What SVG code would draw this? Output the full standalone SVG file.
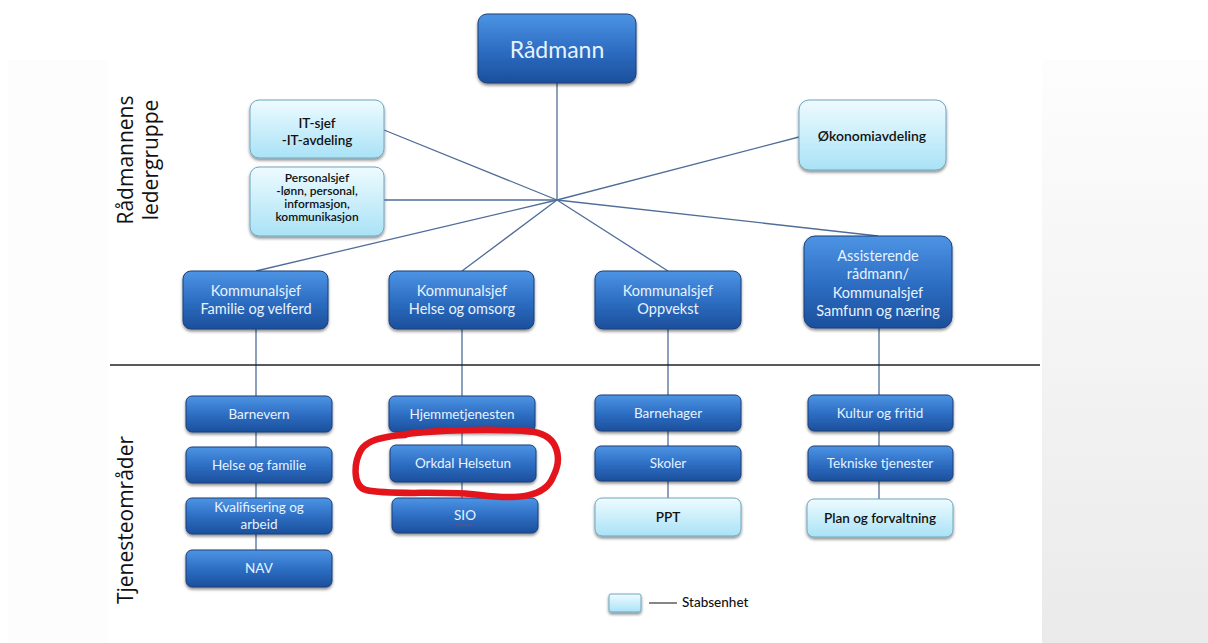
<svg xmlns="http://www.w3.org/2000/svg" width="1208" height="643" viewBox="0 0 1208 643">
<defs>
<linearGradient id="gDark" x1="0" y1="0" x2="0" y2="1">
<stop offset="0" stop-color="#4d94e4"/>
<stop offset="0.5" stop-color="#2e6fc4"/>
<stop offset="1" stop-color="#1c4f9c"/>
</linearGradient>
<linearGradient id="gLight" x1="0" y1="0" x2="0" y2="1">
<stop offset="0" stop-color="#eefbff"/>
<stop offset="1" stop-color="#a9e2f6"/>
</linearGradient>
<linearGradient id="gPanel" x1="0" y1="0" x2="0" y2="1">
<stop offset="0" stop-color="#fdfdfd"/>
<stop offset="1" stop-color="#eaeaea"/>
</linearGradient>
<filter id="sh" x="-10%" y="-10%" width="120%" height="135%">
<feDropShadow dx="0" dy="2" stdDeviation="1.5" flood-color="#000" flood-opacity="0.45"/>
</filter>
<style>
.dark{fill:url(#gDark);stroke:#1d3f78;stroke-width:1;filter:url(#sh)}
.light{fill:url(#gLight);stroke:#6fa6bf;stroke-width:1;filter:url(#sh)}
.td{font-family:Lato,"Open Sans",sans-serif;fill:#e6f3ff;text-anchor:middle;font-size:14.5px}
.tl{font-family:Lato,"Open Sans",sans-serif;fill:#111;text-anchor:middle;font-size:14px;font-weight:600}
.side{font-family:"Open Sans","Liberation Sans",sans-serif;fill:#111;text-anchor:middle;font-size:21px}
.con{stroke:#4f6d99;stroke-width:1.3;fill:none}
</style>
</defs>
<rect width="1208" height="643" fill="#ffffff"/>
<rect x="8" y="60" width="100" height="583" fill="#fdfdfd"/>
<rect x="1042" y="60" width="166" height="583" fill="url(#gPanel)"/>

<g id="side-labels">
<text class="side" transform="translate(133,160) rotate(-90)">Rådmannens</text>
<text class="side" transform="translate(158,160) rotate(-90)">ledergruppe</text>
<text class="side" transform="translate(133,520) rotate(-90)">Tjenesteområder</text>
</g>

<g id="connectors">
<line class="con" x1="557" y1="83" x2="557" y2="200"/>
<line class="con" x1="384" y1="130" x2="557" y2="200"/>
<line class="con" x1="384" y1="200" x2="557" y2="200"/>
<line class="con" x1="799" y1="137" x2="557" y2="200"/>
<line class="con" x1="256" y1="271" x2="557" y2="200"/>
<line class="con" x1="462" y1="271" x2="557" y2="200"/>
<line class="con" x1="668" y1="271" x2="557" y2="200"/>
<line class="con" x1="878" y1="236" x2="557" y2="200"/>
<line class="con" x1="256" y1="329" x2="256" y2="550"/>
<line class="con" x1="462" y1="329" x2="462" y2="498"/>
<line class="con" x1="668" y1="329" x2="668" y2="498"/>
<line class="con" x1="879" y1="328" x2="879" y2="499"/>
<line x1="110" y1="365" x2="1040" y2="365" stroke="#222" stroke-width="1.5"/>
<line x1="649" y1="603" x2="677" y2="603" stroke="#333" stroke-width="1.2"/>
</g>

<g id="radmann"><rect class="dark" x="478" y="14" width="158" height="69" rx="9"/><text class="td" x="557" y="58" style="font-size:23px">Rådmann</text></g>

<g id="it-sjef"><rect class="light" x="250" y="100" width="134" height="58" rx="9"/><text class="tl" x="317" y="128" style="font-size:13.5px">IT-sjef</text><text class="tl" x="317" y="145" style="font-size:13.5px">-IT-avdeling</text></g>

<g id="personalsjef"><rect class="light" x="250" y="167" width="134" height="69" rx="9"/>
<text class="tl" x="317" y="182" style="font-size:12px">Personalsjef</text>
<text class="tl" x="317" y="195" style="font-size:12px">-lønn, personal,</text>
<text class="tl" x="317" y="208" style="font-size:12px">informasjon,</text>
<text class="tl" x="317" y="221" style="font-size:12px">kommunikasjon</text></g>

<g id="okonomi"><rect class="light" x="799" y="100" width="147" height="70" rx="10"/><text class="tl" x="872" y="141" style="font-size:14px">Økonomiavdeling</text></g>

<g id="ks-familie"><rect class="dark" x="183" y="271" width="145" height="58" rx="8"/><text class="td" x="256" y="296">Kommunalsjef</text><text class="td" x="256" y="314">Familie og velferd</text></g>
<g id="ks-helse"><rect class="dark" x="389" y="271" width="145" height="58" rx="8"/><text class="td" x="462" y="296">Kommunalsjef</text><text class="td" x="462" y="314">Helse og omsorg</text></g>
<g id="ks-oppvekst"><rect class="dark" x="595" y="271" width="146" height="58" rx="8"/><text class="td" x="668" y="296">Kommunalsjef</text><text class="td" x="668" y="314">Oppvekst</text></g>
<g id="ks-samfunn"><rect class="dark" x="804" y="236" width="148" height="92" rx="11"/>
<text class="td" x="878" y="261">Assisterende</text>
<text class="td" x="878" y="279">rådmann/</text>
<text class="td" x="878" y="298">Kommunalsjef</text>
<text class="td" x="878" y="316">Samfunn og næring</text></g>

<g id="barnevern"><rect class="dark" x="186" y="396" width="146" height="36" rx="6"/><text class="td" x="259" y="419" style="font-size:13.5px">Barnevern</text></g>
<g id="helse-familie"><rect class="dark" x="186" y="447" width="146" height="36" rx="6"/><text class="td" x="259" y="470" style="font-size:13.5px">Helse og familie</text></g>
<g id="kvalifisering"><rect class="dark" x="186" y="498" width="146" height="36" rx="6"/><text class="td" x="259" y="512" style="font-size:13.5px">Kvalifisering og</text><text class="td" x="259" y="529" style="font-size:13.5px">arbeid</text></g>
<g id="nav"><rect class="dark" x="186" y="550" width="146" height="37" rx="6"/><text class="td" x="259" y="573" style="font-size:13.5px">NAV</text></g>

<g id="hjemmetjenesten"><rect class="dark" x="389" y="396" width="146" height="36" rx="6"/><text class="td" x="462" y="419" style="font-size:13.5px">Hjemmetjenesten</text></g>
<g id="orkdal-helsetun"><rect class="dark" x="390" y="445" width="146" height="37" rx="6"/><text class="td" x="463" y="468" style="font-size:13.5px">Orkdal  Helsetun</text></g>
<g id="sio"><rect class="dark" x="392" y="498" width="146" height="35" rx="6"/><text class="td" x="465" y="520" style="font-size:13.5px">SIO</text><path d="M455 525 q1.5 -2 3 0 t3 0 t3 0 t3 0 t3 0 t3 0" stroke="#d03030" stroke-width="0.8" fill="none"/></g>

<g id="barnehager"><rect class="dark" x="595" y="395" width="146" height="36" rx="6"/><text class="td" x="668" y="418" style="font-size:13.5px">Barnehager</text></g>
<g id="skoler"><rect class="dark" x="595" y="446" width="146" height="35" rx="6"/><text class="td" x="668" y="468" style="font-size:13.5px">Skoler</text></g>
<g id="ppt"><rect class="light" x="595" y="498" width="146" height="38" rx="7"/><text class="tl" x="668" y="522" style="font-size:13.5px">PPT</text></g>

<g id="kultur"><rect class="dark" x="808" y="395" width="145" height="36" rx="6"/><text class="td" x="880" y="418" style="font-size:13.5px">Kultur og fritid</text></g>
<g id="tekniske"><rect class="dark" x="808" y="446" width="145" height="35" rx="6"/><text class="td" x="880" y="468" style="font-size:13.5px">Tekniske tjenester</text></g>
<g id="plan"><rect class="light" x="807" y="499" width="146" height="38" rx="7"/><text class="tl" x="880" y="523" style="font-size:13.5px">Plan og forvaltning</text></g>

<g id="legend"><rect class="light" x="609" y="594" width="32" height="18" rx="2"/><text class="tl" x="682" y="607" style="text-anchor:start;font-size:13.5px;font-weight:500">Stabsenhet</text></g>

<g id="red-circle">
<path d="M378 439 C 420 429 500 428 534 432 C 558 436 563 458 553 477 C 545 497 518 500 480 495 C 440 490 392 496 366 490 C 352 486 354 462 361 450 C 367 440 385 436 405 435" fill="none" stroke="#e3141b" stroke-width="6.5" stroke-linecap="round" stroke-linejoin="round"/>
</g>
</svg>
